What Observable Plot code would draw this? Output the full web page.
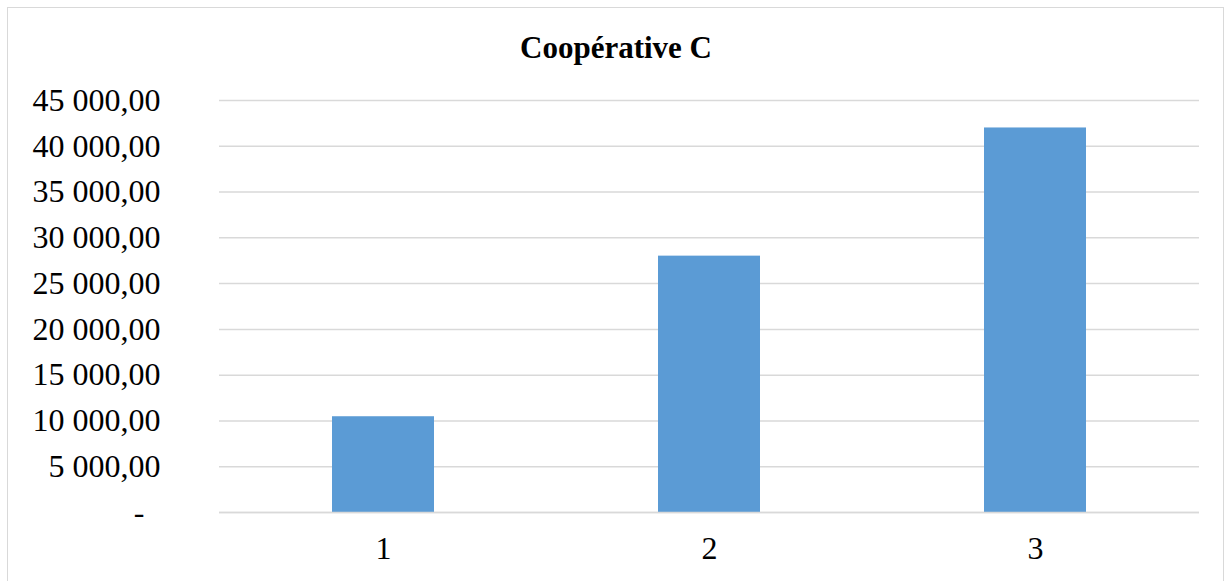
<!DOCTYPE html>
<html>
<head>
<meta charset="utf-8">
<script src="https://cdn.jsdelivr.net/npm/d3@7"></script>
<script src="https://cdn.jsdelivr.net/npm/@observablehq/plot@0.6"></script>
<style>
  html, body { margin: 0; padding: 0; background: #fff; overflow: hidden; }
  #wrap { position: relative; width: 1228px; height: 581px; overflow: hidden; }
  #frame { position: absolute; left: 7px; top: 7px; width: 1217px; height: 620px;
           border: 1.5px solid #d9d9d9; box-sizing: border-box; }
  #title { position: absolute; left: 7px; width: 1218px; top: 30px; text-align: center;
           font-family: "Liberation Serif", "Times New Roman", serif; font-weight: bold;
           font-size: 31px; line-height: 36px; color: #000; }
  #chart { position: absolute; left: 0; top: 0; }
</style>
</head>
<body>
<div id="wrap">
  <div id="frame"></div>
  <div id="chart"></div>
  <div id="title">Coopérative C</div>
</div>
<script>
const title = "Coopérative C";
const categories = ["1", "2", "3"];
const values = [10460, 28000, 42000];
const yTicks = [0, 5000, 10000, 15000, 20000, 25000, 30000, 35000, 40000, 45000];

const data = categories.map((c, i) => ({category: c, value: values[i]}));

const fr = d3.formatLocale({decimal: ",", thousands: " ", grouping: [3], currency: ["", " €"]});
const fmt = fr.format(",.2f");
const tickFormat = v => v === 0 ? "-\u00a0\u00a0" : fmt(v);

const chart = Plot.plot({
  width: 1228,
  height: 581,
  marginLeft: 219,
  marginRight: 29,
  marginTop: 100,
  marginBottom: 69,
  style: {
    fontFamily: "'Liberation Serif', 'Times New Roman', serif",
    fontSize: "32px",
    color: "#000",
    background: "transparent"
  },
  x: {domain: categories, paddingInner: 0.687, paddingOuter: 0.3435, label: null},
  y: {domain: [0, 45000], label: null},
  marks: [
    Plot.gridY(yTicks, {stroke: "#d9d9d9", strokeOpacity: 1, strokeWidth: 1.5}),
    Plot.barY(data, {x: "category", y: "value", fill: "#5b9bd5"}),
    Plot.ruleY([0], {stroke: "#d9d9d9", strokeWidth: 1.5}),
    Plot.axisY(yTicks, {tickSize: 0, tickPadding: 59, tickFormat, fontSize: 32, fill: "#000"}),
    Plot.axisX({tickSize: 0, tickPadding: 24, fontSize: 32, fill: "#000"})
  ]
});
document.getElementById("chart").appendChild(chart);
</script>
</body>
</html>
